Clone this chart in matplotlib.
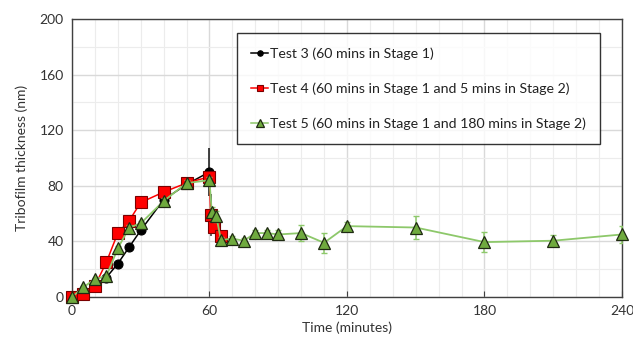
import matplotlib
matplotlib.use("Agg")
import matplotlib.pyplot as plt
from matplotlib.ticker import MultipleLocator
from matplotlib.lines import Line2D

plt.rcParams['font.family'] = ['Lato', 'DejaVu Sans']

# Test 3: 60 mins in Stage 1
t3_time = [0, 5, 10, 15, 20, 25, 30, 40, 50, 60]
t3_thick = [0, 2, 7, 14, 24, 36, 48, 70, 81, 90]
t3_err = [0, 0, 0, 0, 0, 0, 0, 0, 0, 17]

# Test 4: 60 mins in Stage 1 and 5 mins in Stage 2
t4_time = [0, 5, 10, 15, 20, 25, 30, 40, 50, 60, 60.5, 62, 65]
t4_thick = [0, 2, 8, 25, 46, 55, 68, 75.5, 82, 86.5, 59, 50.5, 44]
t4_err = [0, 0, 0, 0, 0, 0, 0, 0, 0, 0, 15, 0, 0]

# Test 5: 60 mins in Stage 1 and 180 mins in Stage 2
t5_time = [0, 5, 10, 15, 20, 25, 30, 40, 50, 60, 61, 63, 65, 70, 75,
           80, 85, 90, 100, 110, 120, 150, 180, 210, 240]
t5_thick = [0, 7, 13, 15, 35, 50, 53, 69, 82, 84, 61, 58, 41, 42, 40.5,
            46, 46, 45, 46, 39, 51, 50, 39.5, 40.5, 45]
t5_err = [0, 1, 1, 1, 2, 2, 2, 2, 2, 2, 4, 4, 2, 2, 2,
          2, 2, 3, 6, 7, 3, 8, 7, 4, 6]

labels = ["Test 3 (60 mins in Stage 1)",
          "Test 4 (60 mins in Stage 1 and 5 mins in Stage 2)",
          "Test 5 (60 mins in Stage 1 and 180 mins in Stage 2)"]

styles = [
    dict(color='black', marker='o', ms=6.5, mfc='black', mec='black', mew=0.8),
    dict(color='#FF0000', marker='s', ms=8, mfc='#FF0000', mec='#7a0000', mew=0.8),
    dict(color='#8DC86A', marker='^', ms=9, mfc='#6FAA3E', mec='#1f2a12', mew=0.9),
]

fig = plt.figure(figsize=(6.33, 3.45), dpi=100)
ax = fig.add_axes([0.1137, 0.1391, 0.8689, 0.8058])

series = [(t3_time, t3_thick, t3_err, '#111111', 0),
          (t4_time, t4_thick, t4_err, '#333333', 0),
          (t5_time, t5_thick, t5_err, '#8DC86A', 2)]
for i, (x, y, e, ecol, cap) in enumerate(series):
    st = styles[i]
    _, caps, bars = ax.errorbar(x, y, yerr=e, fmt='none', ecolor=ecol,
                                elinewidth=1.1, capsize=cap, zorder=3 + i)
    for b in bars:
        b.set_clip_on(False)
    ax.plot(x, y, lw=1.1 if i < 2 else 1.3, zorder=3 + i, clip_on=False, **st)

ax.set_xlim(0, 240)
ax.set_ylim(0, 200)
ax.xaxis.set_major_locator(MultipleLocator(60))
ax.xaxis.set_minor_locator(MultipleLocator(10))
ax.yaxis.set_major_locator(MultipleLocator(40))
ax.yaxis.set_minor_locator(MultipleLocator(20))
ax.grid(which='major', color='#d9d9d9', lw=1.0, zorder=0)
ax.grid(which='minor', color='#ececec', lw=0.8, zorder=0)
ax.set_axisbelow(True)

for s in ax.spines.values():
    s.set_color('#404040')
    s.set_linewidth(1.0)
ax.tick_params(which='major', direction='in', length=4, color='#404040',
               labelsize=10, labelcolor='#333333', pad=6)
ax.tick_params(which='minor', length=0)
ax.tick_params(axis='y', direction='out', length=0)

ax.set_xlabel("Time (minutes)", fontsize=10, color='#333333', labelpad=3)
ax.set_ylabel("Tribofilm thickness (nm)", fontsize=10, color='#333333', labelpad=8)

handles = [Line2D([], [], lw=1.1, **dict(st, ms=st['ms'] * 0.6)) for st in styles]
leg = ax.legend(handles, labels, loc='upper left', bbox_to_anchor=(0.3, 0.95),
                fontsize=10.2, frameon=True, fancybox=False, edgecolor='#000000',
                handlelength=1.2, handletextpad=0.1, labelspacing=1.6,
                borderpad=1.0, borderaxespad=0)
leg.get_frame().set_linewidth(1.0)
for t in leg.get_texts():
    t.set_color('#222222')

fig.savefig("out.png", dpi=100, facecolor='white')
